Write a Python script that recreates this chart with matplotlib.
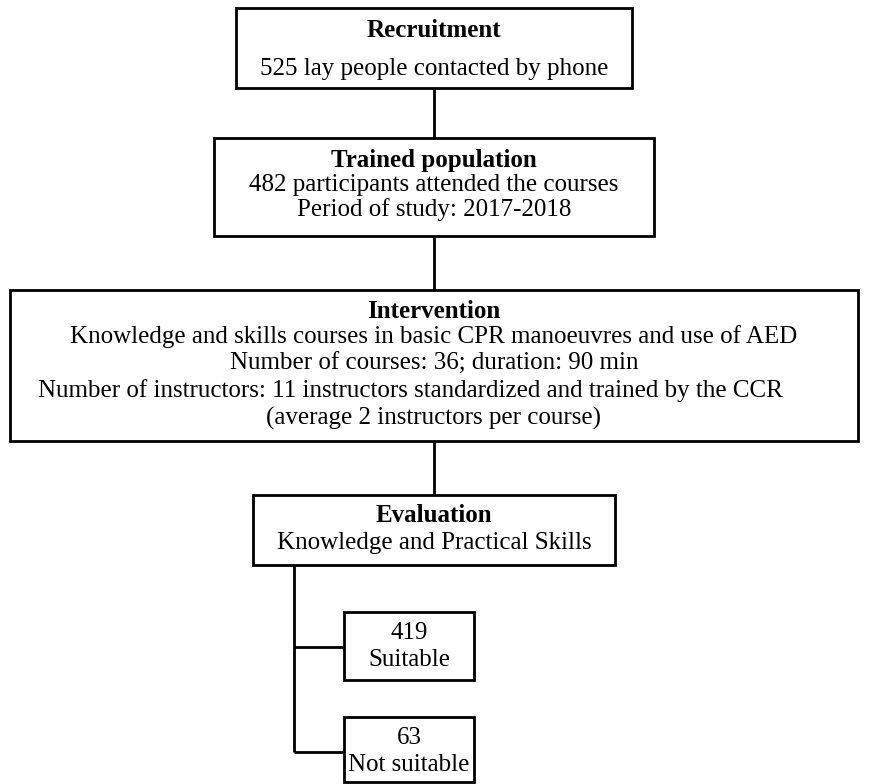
import matplotlib.pyplot as plt
from matplotlib.patches import Rectangle

# flowchart texts (first line of the upper boxes is bold)
recruitment = ['Recruitment', '525 lay people contacted by phone']
trained = ['Trained population', '482 participants attended the courses',
           'Period of study: 2017-2018']
intervention = ['Intervention',
                'Knowledge and skills courses in basic CPR manoeuvres and use of AED',
                'Number of courses: 36; duration: 90 min',
                'Number of instructors: 11 instructors standardized and trained by the CCR',
                '(average 2 instructors per course)']
evaluation = ['Evaluation', 'Knowledge and Practical Skills']
suitable = ['419', 'Suitable']
not_suitable = ['63', 'Not suitable']

# layout in pixels: box (left, top, right, bottom), line centres y, bold title
layout = [
    (recruitment, (236, 8, 632, 88), [30, 69], True),
    (trained, (214, 138, 654, 236), [160, 185, 210], True),
    (intervention, (10, 290, 858, 441), [311, 337, 364, 391, 418], True),
    (evaluation, (253, 495, 615, 565), [515, 543], True),
    (suitable, (344, 612, 474, 680), [633, 660], False),
    (not_suitable, (344, 717, 474, 782), [738, 765], False),
]
# the instructors line sits a bit left of centre in the original
x_shift = {'Number of instructors: 11 instructors standardized and trained by the CCR': -24}

FONT = 'Liberation Serif'
FS = 18
LW = 2.0

fig = plt.figure(figsize=(8.8, 7.84), dpi=100)
ax = fig.add_axes([0, 0, 1, 1])
ax.set_xlim(0, 880)
ax.set_ylim(784, 0)
ax.set_axis_off()

for lines, (x0, y0, x1, y1), ys, bold in layout:
    ax.add_patch(Rectangle((x0, y0), x1 - x0, y1 - y0, fill=False,
                           edgecolor='black', linewidth=LW, zorder=2))
    xc = (x0 + x1) / 2
    for i, (txt, y) in enumerate(zip(lines, ys)):
        ax.text(xc + x_shift.get(txt, 0), y, txt, ha='center', va='center',
                family=FONT, fontsize=FS,
                fontweight='bold' if (bold and i == 0) else 'normal')


def seg(xs, ys):
    ax.plot(xs, ys, color='black', linewidth=LW, solid_capstyle='butt', zorder=1)


# connectors
seg([434, 434], [88, 138])
seg([434, 434], [236, 290])
seg([434, 434], [441, 495])
seg([294, 294], [565, 752])
seg([294, 344], [647, 647])
seg([294, 344], [752, 752])

fig.savefig('out.png', dpi=100)
